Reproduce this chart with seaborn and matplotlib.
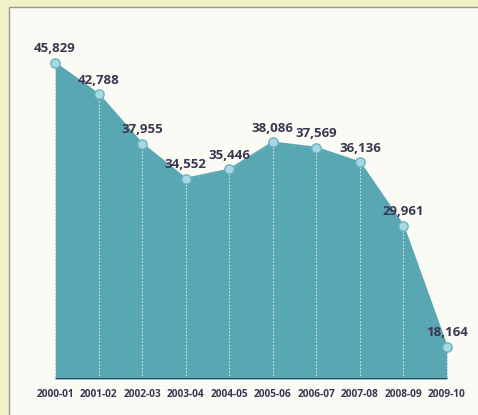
import matplotlib
matplotlib.use("Agg")
import matplotlib.pyplot as plt
from matplotlib.patches import Rectangle
import seaborn as sns
import pandas as pd

# School years and enrolment counts
years = ["2000-01", "2001-02", "2002-03", "2003-04", "2004-05",
         "2005-06", "2006-07", "2007-08", "2008-09", "2009-10"]
counts = [45829, 42788, 37955, 34552, 35446, 38086, 37569, 36136, 29961, 18164]

BASE = 15000
TEAL = "#5aa7b4"
DOT_FACE = "#a8d8e2"
DOT_EDGE = "#6db4c1"
INK = "#3b3550"

sns.set_theme(style="white")
plt.rcParams["font.family"] = ["Open Sans", "DejaVu Sans"]

df = pd.DataFrame({"pos": range(len(years)), "year": years, "count": counts})

fig = plt.figure(figsize=(4.78, 4.15), dpi=100, facecolor="#eef2c6")
# light inner panel with a thin frame on its top and left sides
fig.patches.append(Rectangle((8.5 / 478, -0.1), 1.2, 1.1 - 7.5 / 415,
                             transform=fig.transFigure, facecolor="#fbfbf5",
                             edgecolor="#9c968a", linewidth=1.0, zorder=-10))

ax = fig.add_axes([33 / 478, 35.8 / 415, 436 / 478, 359.2 / 415])
ax.set_facecolor("none")

ax.fill_between(df["pos"], BASE, df["count"], color=TEAL, linewidth=0, zorder=1)
sns.lineplot(data=df, x="pos", y="count", ax=ax, color=TEAL, linewidth=1.2,
             zorder=2, legend=False)
ax.vlines(df["pos"], BASE, df["count"], colors="white", linestyles=(0, (1.5, 1.5)),
          linewidth=0.8, alpha=0.7, zorder=3)
ax.hlines(BASE, 0, len(years) - 1, colors=INK, linewidth=2.0, zorder=4)
sns.scatterplot(data=df, x="pos", y="count", ax=ax, s=45, color=DOT_FACE,
                edgecolor=DOT_EDGE, linewidth=1.0, zorder=5, legend=False)

for x, v in zip(df["pos"], df["count"]):
    ax.annotate(f"{v:,}", (x, v), xytext=(0, 7.5), textcoords="offset points",
                ha="center", va="baseline", fontsize=9.5, fontweight="bold",
                color=INK, zorder=6)

ax.set_xlim(-0.505, len(years) - 1 + 0.505)
ax.set_ylim(BASE, 50000)
ax.set_xticks(df["pos"])
ax.set_xticklabels(years, fontsize=7.3, fontweight="bold", color=INK)
ax.tick_params(axis="x", length=0, pad=7)
ax.set_yticks([])
ax.set_xlabel("")
ax.set_ylabel("")
for s in ax.spines.values():
    s.set_visible(False)

fig.savefig("out.png", dpi=100, facecolor=fig.get_facecolor())
